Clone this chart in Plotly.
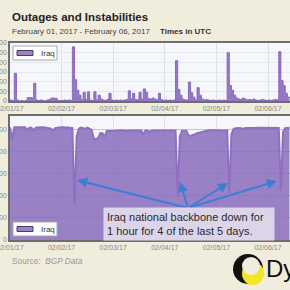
import plotly.graph_objects as go
import pandas as pd

W = H = 290

# hourly samples, Feb 01 00:00 UTC .. Feb 06 10:00 UTC
times = pd.date_range("2017-02-01 00:00", periods=131, freq="h")
day_ticks = pd.date_range("2017-02-01", periods=6, freq="D")

# Top panel: instabilities (per hour)
instab_d1 = [10, 5, 286, 10, 0, 5, 0, 5, 35, 35, 30, 183, 10, 5, 10, 5, 0, 10, 15, 30, 30, 25, 5, 5]
instab_d2 = [5, 10, 5, 10, 5, 560, 220, 110, 60, 10, 90, 15, 95, 10, 5, 95, 10, 60, 20, 10, 5, 15, 80, 10]
instab_d3 = [5, 10, 5, 10, 5, 10, 15, 105, 20, 80, 15, 10, 90, 20, 125, 90, 25, 20, 30, 20, 10, 80, 15, 5]
instab_d4 = [10, 5, 10, 5, 10, 417, 120, 60, 20, 10, 10, 196, 85, 40, 10, 138, 60, 20, 10, 15, 10, 5, 10, 5]
instab_d5 = [5, 10, 5, 10, 5, 500, 160, 110, 60, 30, 20, 15, 30, 20, 10, 15, 10, 20, 10, 5, 10, 15, 10, 5]
instab_d6 = [10, 5, 10, 15, 10, 510, 210, 160, 80, 40, 30]
instab = instab_d1 + instab_d2 + instab_d3 + instab_d4 + instab_d5 + instab_d6

# Bottom panel: reachable networks
reach_d1 = [512, 455, 512, 512, 513, 512, 512, 512, 500, 510, 510, 498, 510, 512, 512, 512, 512, 510, 508, 505, 497, 508, 510, 512]
reach_d2 = [512, 512, 510, 512, 508, 508, 159, 470, 505, 510, 508, 505, 510, 505, 500, 460, 458, 462, 486, 485, 468, 495, 494, 495]
reach_d3 = [495, 496, 497, 497, 498, 496, 497, 497, 498, 497, 497, 496, 497, 497, 480, 497, 497, 490, 497, 497, 497, 497, 497, 497]
reach_d4 = [497, 497, 497, 497, 495, 497, 197, 470, 497, 495, 497, 475, 472, 478, 480, 485, 488, 490, 492, 495, 497, 498, 497, 498]
reach_d5 = [498, 498, 497, 498, 496, 498, 214, 480, 505, 507, 508, 508, 505, 508, 508, 509, 508, 509, 509, 510, 510, 509, 510, 510]
reach_d6 = [510, 510, 510, 510, 508, 509, 224, 490, 508, 510, 510]
reach = reach_d1 + reach_d2 + reach_d3 + reach_d4 + reach_d5 + reach_d6

top_yticks = [0, 100, 200, 300, 400, 500, 600]
bot_yticks = [0, 100, 200, 300, 400, 500]

# arrow heads (time, value) pointing at the outages
arrow_times = ["2017-02-02 07:10", "2017-02-04 07:04", "2017-02-05 05:24", "2017-02-06 04:11"]
arrow_vals = [272, 263, 259, 268]
arrow_ax = [111, 8, -40, -89]
arrow_ay = [28, 26, 25, 27]

FONT = "Liberation Sans, Arial, sans-serif"
BG = "#f0eddc"
PURPLE_LINE = "#8a69bd"
PURPLE_FILL = "rgba(138,108,188,0.85)"


def px(x):
    return x / W


def py(y):
    return 1 - y / H


fig = go.Figure()
fig.add_trace(go.Scatter(
    x=times, y=instab, xaxis="x", yaxis="y", mode="lines", name="Iraq",
    line=dict(color=PURPLE_LINE, width=1, shape="hv"),
    fill="tozeroy", fillcolor="rgba(138,105,189,0.9)", showlegend=False,
    hoverinfo="skip"))
fig.add_trace(go.Scatter(
    x=times, y=reach, xaxis="x2", yaxis="y2", mode="lines", name="Iraq",
    line=dict(color="#8f6fc0", width=2),
    fill="tozeroy", fillcolor=PURPLE_FILL, showlegend=False,
    hoverinfo="skip"))

x_end = pd.Timestamp("2017-02-06 10:14")
xcommon = dict(
    domain=[px(10), 1], range=[times[0], x_end], tickvals=day_ticks,
    tickformat="%m/%d/%y", tickfont=dict(size=7, color="#888", family=FONT),
    showgrid=True, gridcolor="#dde2ea", gridwidth=1, showline=True,
    linecolor="#6e6e6e", linewidth=1.5, mirror=True, ticks="",
    zeroline=False, automargin=False, fixedrange=True,
    ticklabeloverflow="allow")
ycommon = dict(
    tickfont=dict(size=7, color="#888", family=FONT), showline=True,
    linecolor="#6e6e6e", linewidth=1.5, ticks="", zeroline=False,
    automargin=False, fixedrange=True, showgrid=True,
    ticklabeloverflow="allow")

fig.update_layout(
    width=W, height=H, margin=dict(l=0, r=0, t=0, b=0, pad=0),
    paper_bgcolor=BG, plot_bgcolor="#f5f7fb",
    font=dict(family=FONT),
    showlegend=False,
    xaxis=dict(xcommon, anchor="y"),
    yaxis=dict(ycommon, domain=[py(101), py(43)], range=[0, 600],
               tickvals=top_yticks, gridcolor="#e6e9ef", anchor="x"),
    xaxis2=dict(xcommon, anchor="y2"),
    yaxis2=dict(ycommon, domain=[py(240), py(116)], range=[0, 563],
                tickvals=bot_yticks, gridcolor="#c3c6d2", anchor="x2"),
)

shapes = []
# manual legend boxes
for (by0, by1) in [(46, 60), (222, 236)]:
    shapes.append(dict(type="rect", xref="paper", yref="paper",
                       x0=px(13), x1=px(57), y0=py(by1), y1=py(by0),
                       fillcolor="white", line=dict(color="#a8a8a8", width=1)))
    cy = (by0 + by1) / 2
    shapes.append(dict(type="rect", xref="paper", yref="paper",
                       x0=px(17), x1=px(33), y0=py(cy + 2.5), y1=py(cy - 2.5),
                       fillcolor="#9a82c4", line=dict(color="#4a3d66", width=1)))
# Dyn logo
shapes.append(dict(type="circle", xref="paper", yref="paper",
                   x0=px(233), x1=px(263), y0=py(284), y1=py(254),
                   fillcolor="#111111", line=dict(width=0)))
shapes.append(dict(type="circle", xref="paper", yref="paper",
                   x0=px(242), x1=px(264), y0=py(285), y1=py(262),
                   fillcolor="#f2e629", line=dict(width=0)))
shapes.append(dict(type="circle", xref="paper", yref="paper",
                   x0=px(242), x1=px(260), y0=py(275), y1=py(257),
                   fillcolor=BG, line=dict(width=0)))
fig.update_layout(shapes=shapes)

ann = []
ann.append(dict(text="<b>Outages and Instabilities</b>", x=px(10), y=py(16.5),
                xref="paper", yref="paper", xanchor="left", yanchor="middle",
                showarrow=False, font=dict(size=11.5, color="#222")))
ann.append(dict(text="February 01, 2017 - February 06, 2017", x=px(10), y=py(31.5),
                xref="paper", yref="paper", xanchor="left", yanchor="middle",
                showarrow=False, font=dict(size=8, color="#444")))
ann.append(dict(text="<b>Times in UTC</b>", x=px(158), y=py(31.5),
                xref="paper", yref="paper", xanchor="left", yanchor="middle",
                showarrow=False, font=dict(size=8, color="#333")))
ann.append(dict(text="Source:  <i>BGP Data</i>", x=px(10), y=py(261),
                xref="paper", yref="paper", xanchor="left", yanchor="middle",
                showarrow=False, font=dict(size=8.3, color="#999")))
for cy in [53, 229]:
    ann.append(dict(text="Iraq", x=px(39), y=py(cy), xref="paper", yref="paper",
                    xanchor="left", yanchor="middle", showarrow=False,
                    font=dict(size=8, color="#333")))
ann.append(dict(text="Dyn", x=px(264), y=py(268), xref="paper", yref="paper",
                xanchor="left", yanchor="middle", showarrow=False,
                font=dict(size=24, color="#111")))
for t, v, ax, ay in zip(arrow_times, arrow_vals, arrow_ax, arrow_ay):
    ann.append(dict(x=t, y=v, xref="x2", yref="y2", ax=ax, ay=ay, text="",
                    showarrow=True, arrowhead=2, arrowsize=1, arrowwidth=2,
                    arrowcolor="#3d7dd6"))
ann.append(dict(text="Iraq national backbone down for<br>1 hour for 4 of the last 5 days.",
                x=px(103), y=py(207), xref="paper", yref="paper",
                xanchor="left", yanchor="top", align="left", showarrow=False,
                width=164, borderpad=3, bgcolor="#dcd5e9",
                font=dict(size=11, color="#2a2a2a")))
fig.update_layout(annotations=ann)

fig.write_html("out.html")
